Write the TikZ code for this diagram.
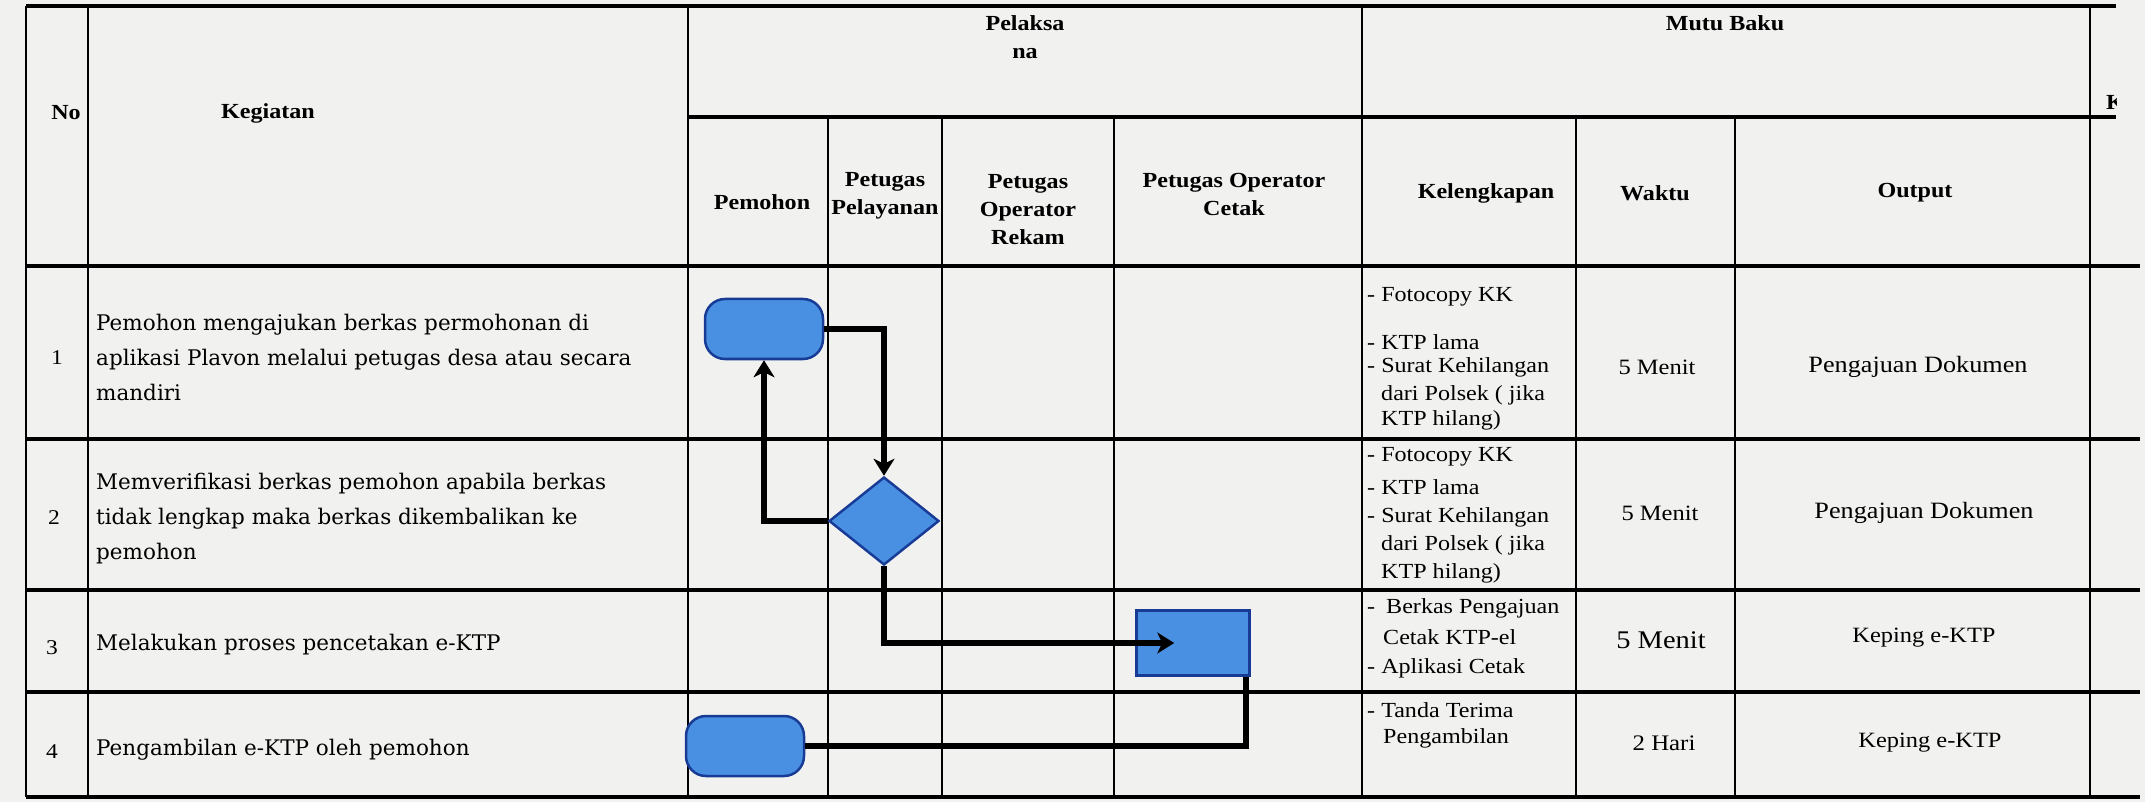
\documentclass[tikz,border=0pt]{standalone}
\usepackage{fontspec}
\setmainfont{DejaVu Serif}
\newfontfamily\hdrfont{Liberation Serif}[FakeStretch=1.12]
\newfontfamily\tnr{Liberation Serif}[FakeStretch=1.12]
\usetikzlibrary{shapes.geometric,arrows.meta,calc}
\definecolor{paper}{RGB}{241,241,240}
\definecolor{boxfill}{RGB}{74,144,226}
\definecolor{boxline}{RGB}{24,60,150}
\begin{document}
\begin{tikzpicture}[x=1pt,y=-1pt,
  hline/.style={line width=3.2pt},
  vline/.style={line width=2pt},
  hdr/.style={font=\hdrfont\bfseries\fontsize{21.5}{28}\selectfont, align=center, inner sep=0pt},
  body/.style={font=\fontsize{21.5}{35}\selectfont, align=left, inner sep=0pt, anchor=west},
  num/.style={font=\tnr\fontsize{21}{24}\selectfont, inner sep=0pt},
  kel/.style={font=\tnr\fontsize{21.5}{27}\selectfont, inner sep=0pt, anchor=west},
  wkt/.style={font=\tnr\fontsize{21.9}{26}\selectfont, inner sep=0pt},
  outp/.style={font=\tnr\fontsize{23.4}{26}\selectfont, inner sep=0pt},
  term/.style={draw=boxline, fill=boxfill, line width=2.5pt, rounded corners=20pt, minimum width=118pt, minimum height=60pt, inner sep=0pt},
  dec/.style={draw=boxline, fill=boxfill, line width=2.5pt, diamond, minimum width=110pt, minimum height=88pt, inner sep=0pt},
  proc/.style={draw=boxline, fill=boxfill, line width=2.5pt, minimum width=113pt, minimum height=65pt, inner sep=0pt},
  flow/.style={line width=5.5pt},
  arr/.style={flow, -{Stealth[length=17pt,width=21pt,inset=5pt]}},
]
\fill[paper] (0,0) rectangle (2145,802);
\useasboundingbox (0,0) rectangle (2145,802);

% table grid
\draw[hline] (26,6) -- (2116,6);
\draw[hline] (688,117) -- (2116,117);
\draw[hline] (26,266) -- (2140,266);
\draw[hline] (26,439) -- (2140,439);
\draw[hline] (26,590) -- (2140,590);
\draw[hline] (26,692) -- (2140,692);
\draw[hline] (26,797) -- (2140,797);
\foreach \x in {26,88,688,1362,2090} \draw[vline] (\x,6) -- (\x,797);
\foreach \x in {828,942,1114,1576,1735} \draw[vline] (\x,117) -- (\x,797);

% header
\node[hdr] (hPel) at (1025,37) {Pelaksa\\na};
\node[hdr] (hMutu) at (1725,23) {Mutu Baku};
\node[hdr] (hNo) at (66,113) {No};
\node[hdr] (hKeg) at (268,113) {Kegiatan};
\node[hdr] (hPem) at (762,202) {Pemohon};
\node[hdr] (hPly) at (885,196) {Petugas\\Pelayanan};
\node[hdr] (hRek) at (1028,210) {Petugas\\Operator\\Rekam};
\node[hdr] (hCtk) at (1234,194) {Petugas Operator\\Cetak};
\node[hdr] (hKel) at (1486,193) {Kelengkapan};
\node[hdr] (hWkt) at (1655,193) {Waktu};
\node[hdr] (hOut) at (1915,193) {Output};
\begin{scope}
\clip (2100,80) rectangle (2116,125);
\node[hdr, anchor=base west] (hKet) at (2106,110) {K};
\end{scope}

% row numbers
\node[num] (n1) at (57,358) {1};
\node[num] (n2) at (54,518) {2};
\node[num] (n3) at (52,648) {3};
\node[num] (n4) at (52,752) {4};

% kegiatan
\node[body] (g1) at (96,357) {Pemohon mengajukan berkas permohonan di\\aplikasi Plavon melalui petugas desa atau secara\\mandiri};
\node[body] (g2) at (96,519) {Memverifikasi berkas pemohon apabila berkas\\tidak lengkap maka berkas dikembalikan ke\\pemohon};
\node[body] (g3) at (96,645) {Melakukan proses pencetakan e-KTP};
\node[body] (g4) at (96,750) {Pengambilan e-KTP oleh pemohon};

% kelengkapan
\node[kel] (k1a) at (1367,297) {- Fotocopy KK};
\node[kel] (k1b) at (1367,342) {- KTP lama};
\node[kel] (k1c) at (1367,367) {- Surat Kehilangan};
\node[kel] (k1d) at (1381,395) {dari Polsek ( jika};
\node[kel] (k1e) at (1381,420) {KTP hilang)};
\node[kel] (k2a) at (1367,457) {- Fotocopy KK};
\node[kel] (k2b) at (1367,487) {- KTP lama};
\node[kel] (k2c) at (1367,517) {- Surat Kehilangan};
\node[kel] (k2d) at (1381,545) {dari Polsek ( jika};
\node[kel] (k2e) at (1381,573) {KTP hilang)};
\node[kel] (k3a) at (1367,608) {-\ \hspace{5pt}Berkas Pengajuan};
\node[kel] (k3b) at (1383,637) {Cetak KTP-el};
\node[kel] (k3c) at (1367,668) {- Aplikasi Cetak};
\node[kel] (k4a) at (1367,710) {- Tanda Terima};
\node[kel] (k4b) at (1383,738) {Pengambilan};

% waktu
\node[wkt] (w1) at (1657,367) {5 Menit};
\node[wkt] (w2) at (1660,513) {5 Menit};
\node[wkt, font=\tnr\fontsize{25.4}{28}\selectfont] (w3) at (1661,640) {5 Menit};
\node[wkt, font=\tnr\fontsize{22.2}{26}\selectfont] (w4) at (1664,743) {2 Hari};

% output
\node[outp] (o1) at (1918,367) {Pengajuan Dokumen};
\node[outp] (o2) at (1924,513) {Pengajuan Dokumen};
\node[outp, font=\tnr\fontsize{21.8}{26}\selectfont] (o3) at (1924,638) {Keping e-KTP};
\node[outp, font=\tnr\fontsize{21.8}{26}\selectfont] (o4) at (1930,743) {Keping e-KTP};

% flowchart
\node[term] (t1) at (764,329) {};
\node[dec] (d2) at (884,521) {};
\node[proc] (p3) at (1193,643) {};
\node[term] (t4) at (745,746) {};

\draw[arr] (t1.east) -| (d2.north);
\draw[arr] (d2.west) -| (t1.south);
\draw[arr] (d2.south) |- ($(p3.west)+(39,0)$);
\draw[flow] ($(p3.south east)+(-5,0)$) |- (t4.east);
\end{tikzpicture}
\end{document}
